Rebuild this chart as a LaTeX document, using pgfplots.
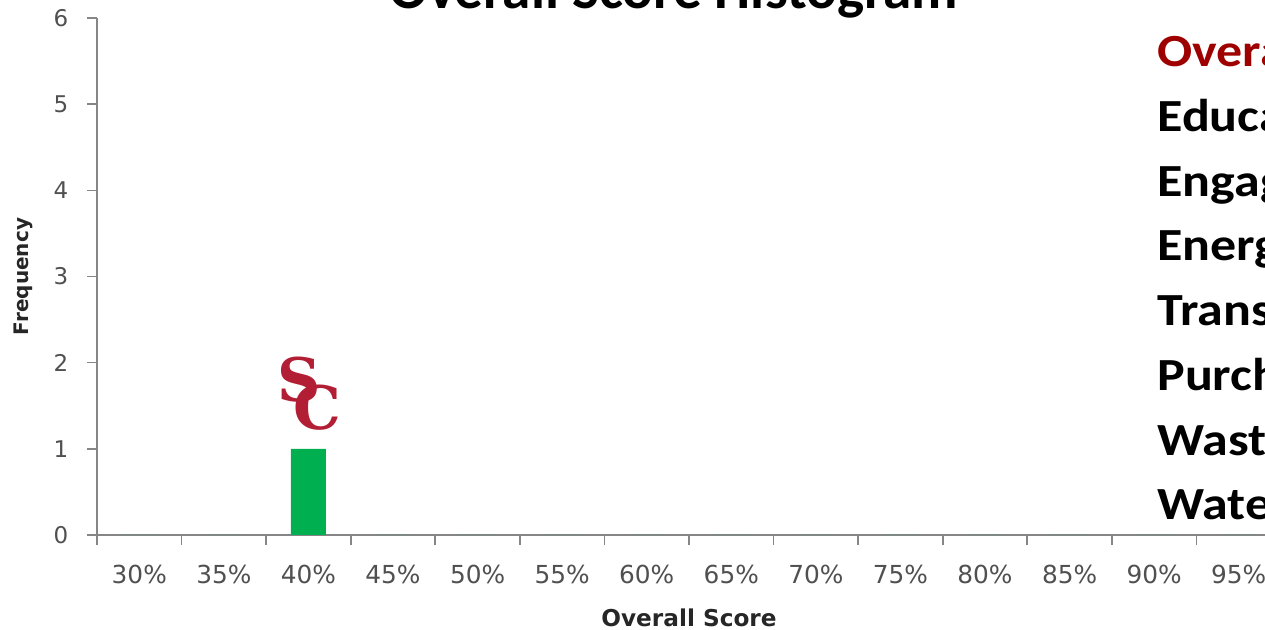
\documentclass[border=0pt]{standalone}
\usepackage{fontspec}
\setmainfont{Carlito}
\newfontfamily\dejavu{DejaVu Sans}
\newfontfamily\dejaserif{DejaVu Serif}
\usepackage{pgfplots}
\pgfplotsset{compat=1.18}
\definecolor{axisgray}{RGB}{134,134,134}
\definecolor{labgray}{RGB}{80,80,80}
\definecolor{bargreen}{RGB}{0,176,80}
\definecolor{uscred}{RGB}{178,30,52}
\definecolor{darkred}{RGB}{158,0,0}
\newcommand{\wide}[1]{\scalebox{1.13}[1]{#1}}

\begin{document}
\begin{tikzpicture}
% page = 1265x630 px at 0.5pt per px
\useasboundingbox (0,0) rectangle (632.5pt,315pt);
\clip (0,0) rectangle (632.5pt,315pt);

\begin{axis}[
    at={(48.5pt,47.5pt)}, anchor=south west,
    scale only axis,
    width=592pt, height=258.5pt,
    xmin=-0.5, xmax=13.5,
    ymin=0, ymax=6,
    axis x line=bottom, axis y line=left,
    axis line style={axisgray, line width=0.9pt, -},
    xtick={-0.5,0.5,...,13.5},
    x tick label as interval,
    xticklabels={30\%,35\%,40\%,45\%,50\%,55\%,60\%,65\%,70\%,75\%,80\%,85\%,90\%,95\%},
    x tick style={axisgray, line width=0.8pt},
    ytick={0,...,6},
    y tick style={axisgray, line width=0.8pt},
    major tick length=4.8pt,
    tick align=outside,
    xticklabel style={font=\dejavu\fontsize{12.4}{14}\selectfont, text=labgray, yshift=-6.5pt},
    yticklabel style={font=\dejavu\fontsize{11.5}{13}\selectfont, text=labgray, xshift=-6pt},
    /pgf/number format/assume math mode=true,
    xlabel={Overall Score},
    xlabel style={font=\dejavu\bfseries\fontsize{11.6}{13}\selectfont, text=black!85,
        at={(axis description cs:0.5,0)}, anchor=center, yshift=-41.5pt},
    ylabel={Frequency},
    ylabel style={font=\dejavu\bfseries\fontsize{10}{12}\selectfont, text=black!85,
        at={(axis description cs:0,0.5)}, anchor=center, yshift=37pt},
    ybar, bar width=17.5pt,
    clip=false,
]
\addplot[fill=bargreen, draw=none] coordinates {
    (0,0) (1,0) (2,1) (3,0) (4,0) (5,0) (6,0) (7,0) (8,0) (9,0) (10,0) (11,0) (12,0) (13,0)
};
\end{axis}

% SC logo above the bar
\node[font=\dejaserif\bfseries\fontsize{30}{30}\selectfont, text=uscred, inner sep=0] at (158.5pt,111pt) {C};
\node[font=\dejaserif\bfseries\fontsize{30}{30}\selectfont, text=uscred, inner sep=0] at (149.5pt,125pt) {S};

% title, cut off at the top
\node[font=\bfseries\fontsize{28.6}{30}\selectfont, anchor=base, inner sep=0] at (337pt,310.5pt) {Overall Score Histogram};

% category list at the right, cut off
\begin{scope}[every node/.style={anchor=base west, inner sep=0, font=\bfseries\fontsize{23}{26}\selectfont}]
\node[text=darkred] at (578.5pt,281.5pt) {\wide{Overall Score}};
\node at (578.5pt,249.2pt) {\wide{Education \& Research}};
\node at (578.5pt,216.8pt) {\wide{Engagement}};
\node at (578.5pt,184.5pt) {\wide{Energy \& Climate}};
\node at (578.5pt,152.1pt) {\wide{Transportation}};
\node at (578.5pt,119.8pt) {\wide{Purchasing}};
\node at (578.5pt,87.4pt) {\wide{Waste}};
\node at (578.5pt,55pt) {\wide{Water}};
\end{scope}
\end{tikzpicture}
\end{document}
